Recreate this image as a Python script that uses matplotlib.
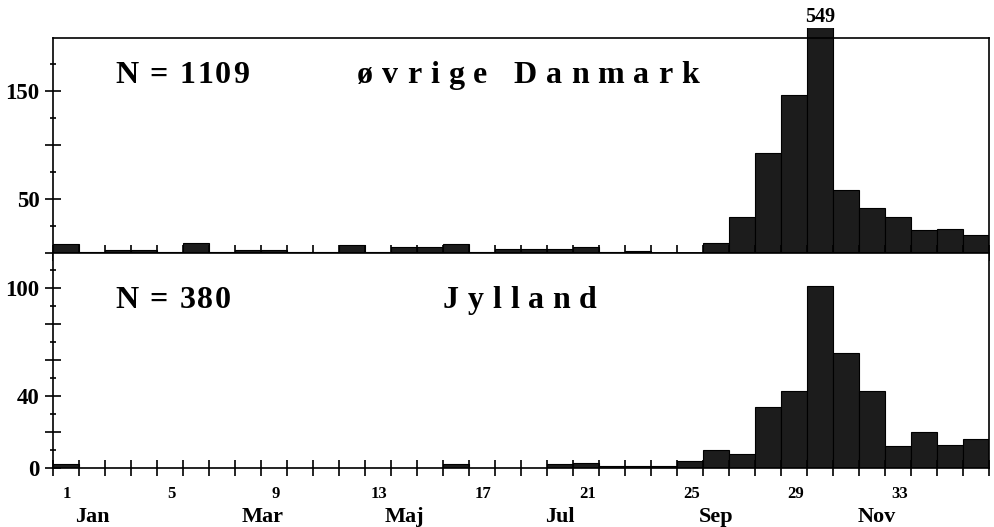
import matplotlib
matplotlib.use("Agg")
import matplotlib.pyplot as plt
import numpy as np
from matplotlib.patches import Rectangle
from matplotlib.ticker import MultipleLocator, FuncFormatter
from matplotlib.transforms import IdentityTransform

# half-month periods 1..36
periods = np.arange(1, 37)
danmark = [8, 1, 3, 3, 1, 9, 1, 3, 3, 1, 1, 7, 1, 6, 6, 8, 1, 4, 4, 4,
           6, 1, 2, 0, 0, 9, 33, 93, 146, 549, 58, 42, 33, 21, 22, 17]
jylland = [2, 0, 0, 0, 0, 0, 0, 0, 0, 0, 0, 0, 0, 0, 0, 2, 0, 0, 0, 2,
           3, 1, 1, 1, 4, 10, 8, 34, 43, 101, 64, 43, 12, 20, 13, 16]
num_labels = [1, 5, 9, 13, 17, 21, 25, 29, 33]
months = ["Jan", "Mar", "Maj", "Jul", "Sep", "Nov"]
month_pos = [1.5, 8.05, 13.5, 19.5, 25.5, 31.7]

SERIF = "Liberation Serif"
W, H, DPI = 994, 527, 100
fig = plt.figure(figsize=(W / DPI, H / DPI), dpi=DPI)
ax1 = fig.add_axes([53 / W, 1 - 253 / H, 936 / W, 215 / H])
ax2 = fig.add_axes([53 / W, 1 - 468 / H, 936 / W, 215 / H])

BAR = "#1c1c1c"


def draw(ax, vals, ytop, major, minor, shown):
    bars = ax.bar(periods - 0.5, vals, width=1.0, color=BAR, edgecolor="#000000", linewidth=0.8)
    clip = Rectangle((0, 0), 1, 1.045, transform=ax.transAxes, visible=False)
    ax.add_patch(clip)
    for b in bars:
        b.set_clip_path(clip)
    ax.set_xlim(0, 36)
    ax.set_ylim(0, ytop)
    ax.set_xticks(np.arange(0, 37))
    ax.yaxis.set_major_locator(MultipleLocator(major))
    ax.yaxis.set_minor_locator(MultipleLocator(minor))
    ax.yaxis.set_major_formatter(FuncFormatter(lambda v, p: "%d" % v if int(round(v)) in shown else ""))
    ax.tick_params(axis="both", which="major", direction="inout", length=11.5, width=1.2)
    ax.tick_params(axis="y", which="minor", direction="inout", length=5, width=1.2)
    ax.tick_params(axis="x", labelbottom=False)
    ax.tick_params(axis="y", labelsize=16.5, pad=4)
    for lab in ax.get_yticklabels():
        lab.set_fontfamily(SERIF)
        lab.set_fontweight("bold")
    for s in ax.spines.values():
        s.set_linewidth(1.2)
    return bars


bars1 = draw(ax1, danmark, 199, 50, 25, (50, 150))
draw(ax2, jylland, 119.5, 20, 10, (0, 40, 100))

# value of the clipped peak
peak = int(np.argmax(danmark))
ax1.annotate(str(danmark[peak]), xy=(periods[peak] - 0.5, 1.045), xycoords=("data", "axes fraction"),
             xytext=(0, 1), textcoords="offset points", ha="center", va="bottom",
             fontsize=14.5, fontweight="bold", family=SERIF)

xt = ax2.get_xaxis_transform()
for n in num_labels:
    ax2.text(n - 0.45, -0.12, str(n), transform=xt, ha="center", va="center",
             fontsize=12, fontweight="bold", family=SERIF)
for m, p in zip(months, month_pos):
    ax2.text(p, -0.228, m, transform=xt, ha="center", va="center",
             fontsize=16, fontweight="bold", family=SERIF)

renderer = fig.canvas.get_renderer()


def tracked(x, y, s, extra, size=23):
    # letter-spaced heading, x/y in pixels from the top-left corner
    for ch in s:
        t = fig.text(x, H - y, ch, transform=IdentityTransform(), fontsize=size,
                     fontweight="bold", family=SERIF, va="baseline")
        w = size * 0.25 * DPI / 72 if ch == " " else t.get_window_extent(renderer).width
        x += w + extra


tracked(115, 83, "N = 1109", 1.8)
tracked(357, 83, "øvrige Danmark", 9.0)
tracked(115, 308, "N = 380", 1.8)
tracked(443, 308, "Jylland", 8.7)

fig.savefig("out.png", dpi=DPI)
